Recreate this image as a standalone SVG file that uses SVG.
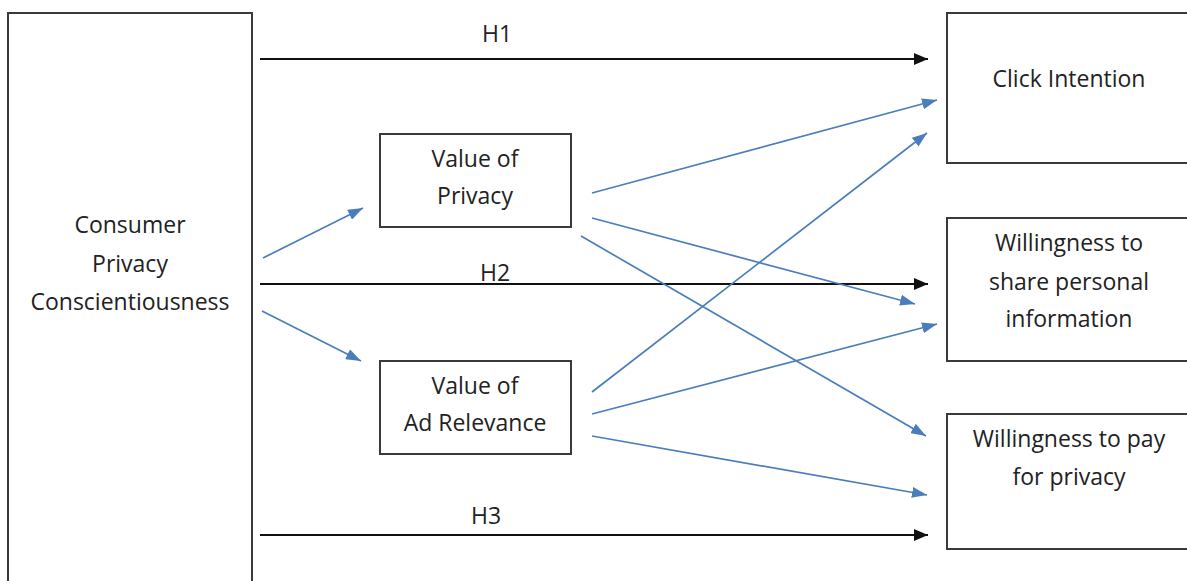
<svg xmlns="http://www.w3.org/2000/svg" width="1187" height="581" viewBox="0 0 1187 581">
<style>
.box{fill:#fff;stroke:#3a3a3a;stroke-width:2}
.t{font-family:"Open Sans","Liberation Sans",sans-serif;font-size:23px;fill:#222;text-anchor:middle}
.k{stroke:#111;stroke-width:2;fill:none}
.b{stroke:#4a7ebb;stroke-width:1.7;fill:none}
</style>
<defs>
<marker id="ak" viewBox="0 0 14 12" refX="14" refY="6" markerWidth="14" markerHeight="12" markerUnits="userSpaceOnUse" orient="auto"><path d="M0,0 L14,6 L0,12 z" fill="#111"/></marker>
<marker id="ab" viewBox="0 0 15 11" refX="15" refY="5.5" markerWidth="15" markerHeight="11" markerUnits="userSpaceOnUse" orient="auto"><path d="M0,0 L15,5.5 L0,11 z" fill="#4a7ebb"/></marker>
</defs>
<rect width="1187" height="581" fill="#fff"/>
<g id="cpc"><rect class="box" x="8" y="13" width="244" height="600"/>
<text class="t" x="130" y="233">Consumer</text><text class="t" x="130" y="272">Privacy</text><text class="t" x="130" y="310">Conscientiousness</text></g>
<g id="vop"><rect class="box" x="380" y="134" width="191" height="93"/>
<text class="t" x="475" y="167">Value of</text><text class="t" x="475" y="204">Privacy</text></g>
<g id="voar"><rect class="box" x="380" y="361" width="191" height="93"/>
<text class="t" x="475" y="394">Value of</text><text class="t" x="475" y="431">Ad Relevance</text></g>
<g id="click"><rect class="box" x="947" y="13" width="260" height="150"/>
<text class="t" x="1069" y="87">Click Intention</text></g>
<g id="share"><rect class="box" x="947" y="218" width="260" height="143"/>
<text class="t" x="1069" y="251">Willingness to</text><text class="t" x="1069" y="290">share personal</text><text class="t" x="1069" y="327">information</text></g>
<g id="pay"><rect class="box" x="947" y="414" width="260" height="135"/>
<text class="t" x="1069" y="447">Willingness to pay</text><text class="t" x="1069" y="485">for privacy</text></g>
<g id="connectors">
<line class="k" x1="260" y1="59" x2="928" y2="59" marker-end="url(#ak)"/>
<line class="k" x1="260" y1="284" x2="928" y2="284" marker-end="url(#ak)"/>
<line class="k" x1="260" y1="535" x2="928" y2="535" marker-end="url(#ak)"/>
<line class="b" x1="263" y1="258" x2="363" y2="208" marker-end="url(#ab)"/>
<line class="b" x1="262" y1="311" x2="361" y2="361" marker-end="url(#ab)"/>
<line class="b" x1="592" y1="193" x2="937" y2="100" marker-end="url(#ab)"/>
<line class="b" x1="592" y1="218" x2="915" y2="304" marker-end="url(#ab)"/>
<line class="b" x1="581" y1="236" x2="926" y2="436" marker-end="url(#ab)"/>
<line class="b" x1="592" y1="392" x2="927" y2="133" marker-end="url(#ab)"/>
<line class="b" x1="592" y1="414" x2="937" y2="324" marker-end="url(#ab)"/>
<line class="b" x1="592" y1="436" x2="927" y2="495" marker-end="url(#ab)"/>
</g>
<text class="t" x="497" y="42">H1</text>
<text class="t" x="495" y="281">H2</text>
<text class="t" x="486" y="524">H3</text>
</svg>
